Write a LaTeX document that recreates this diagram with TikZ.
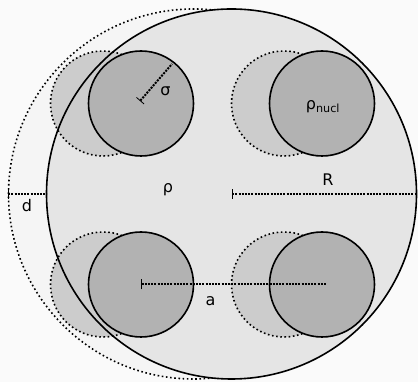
\documentclass[tikz,border=0pt]{standalone}
\usepackage{fontspec}
\setmainfont{DejaVu Sans}
\usetikzlibrary{arrows.meta}
\begin{document}
\begin{tikzpicture}[x=1pt,y=1pt,
        etichetta/.style={font=\fontsize{16}{19}\selectfont, inner sep=0pt},
        quota/.style={line width=2pt, dash pattern=on 2pt off 1.2pt, {Bar[width=10pt,line width=0.8pt]}-},
        bordo/.style={line width=1.6pt},
        bordopunti/.style={line width=1.6pt, dash pattern=on 1.6pt off 2.6pt}]
        \useasboundingbox[fill=black!2] (0,0) rectangle (418,382);
        % centri
        \coordinate (C) at (231.5,188);
        \coordinate (Cd) at (193.5,188);
        \coordinate (n1) at (141,278.5);
        \coordinate (n2) at (322,278.5);
        \coordinate (n3) at (141,97.5);
        \coordinate (n4) at (322,97.5);
        \coordinate (nd1) at (103,278.5);
        \coordinate (nd2) at (284,278.5);
        \coordinate (nd3) at (103,97.5);
        \coordinate (nd4) at (284,97.5);
        % estremi delle quote
        \coordinate (s0) at (140,281);
        \coordinate (s1) at (172,318);
        \coordinate (a1) at (327,97.5);
        \coordinate (Cr) at (416.5,188);
        \coordinate (dl) at (7.5,188);
        \coordinate (Cl) at (46.5,188);

        % disegno il nucleo spostato
        \fill[black!4] (Cd) circle[radius=185];
        \draw[bordopunti] (Cd) circle[radius=185];
        % disegno il nucleo
        \fill[black!10] (C) circle[radius=185];
        \foreach \p in {nd1,nd2,nd3,nd4}
            \draw[bordopunti, fill=black!20] (\p) circle[radius=52.5];
        \draw[bordo] (C) circle[radius=185];
        \foreach \p in {n1,n2,n3,n4}
            \draw[bordo, fill=black!30] (\p) circle[radius=52.5];

        % quote
        \draw[quota] (s0) -- (s1);
        \draw[quota] (n3) -- (a1);
        \draw[quota] (C) -- (Cr);
        \draw[quota] (dl) -- (Cl);

        % etichette
        \node[etichetta] (sigma) at (165.5,291) {σ};
        \node[etichetta] (rho) at (168,192) {ρ};
        \node[etichetta] (rhonucl) at (323,275) {ρ\textsubscript{nucl}};
        \node[etichetta] (raggio) at (328,202) {R};
        \node[etichetta] (dist) at (27,176.5) {d};
        \node[etichetta] (passo) at (210.5,81) {a};
    \end{tikzpicture}
\end{document}
